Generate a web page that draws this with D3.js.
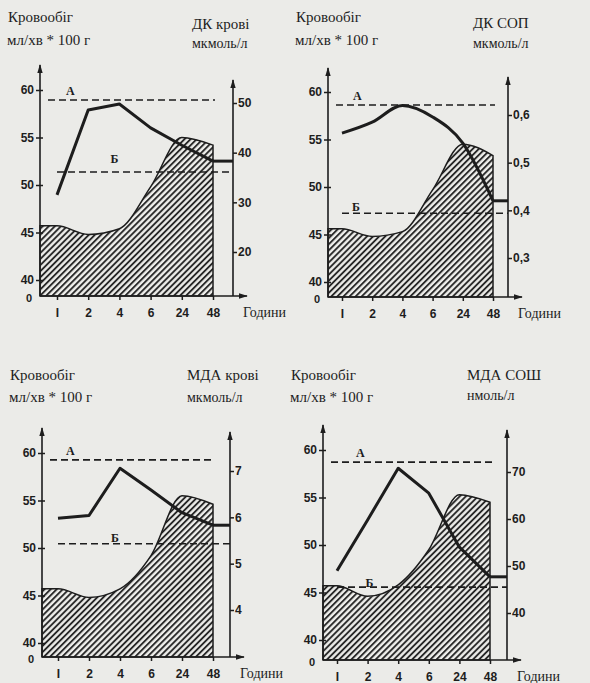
<!DOCTYPE html>
<html><head><meta charset="utf-8">
<script src="https://cdn.jsdelivr.net/npm/d3@7"></script>
<style>
html,body{margin:0;padding:0;background:#ebebe8;}
svg{display:block;}
.t{font-family:"Liberation Serif","DejaVu Serif",serif;fill:#1d1d1d;}
.n{font-family:"Liberation Sans","DejaVu Sans",sans-serif;font-weight:bold;fill:#1d1d1d;}
</style></head>
<body>
<svg id="c" width="590" height="683"></svg>
<script>
// ---- data ----
const hours = ["I", "2", "4", "6", "24", "48"];
const flowLabel = ["Кровообіг", "мл/хв * 100 г"];
const rightLabels = [["ДК крові", "мкмоль/л"], ["ДК СОП", "мкмоль/л"], ["МДА крові", "мкмоль/л"], ["МДА СОШ", "нмоль/л"]];
const leftTicks = [40, 45, 50, 55, 60];
const rightTicks1 = [20, 30, 40, 50];
const rightTicks2 = [0.3, 0.4, 0.5, 0.6];
const rightTicks3 = [4, 5, 6, 7];
const rightTicks4 = [40, 50, 60, 70];
const flow1 = [45.7, 44.8, 45.4, 49.8, 55.0, 54.2];
const flow2 = [45.6, 44.8, 45.3, 49.7, 54.5, 53.3];
const flow3 = [45.7, 44.8, 45.7, 49.2, 55.5, 54.6];
const flow4 = [45.7, 44.6, 45.8, 49.5, 55.3, 54.5];
const dkBlood = [31.5, 48.6, 49.8, 45.0, 41.5, 38.3];
const dkSop = [0.562, 0.585, 0.620, 0.596, 0.541, 0.420];
const mdaBlood = [5.98, 6.04, 7.06, 6.59, 6.10, 5.83];
const mdaSosh = [49.0, 59.8, 70.8, 65.5, 54.0, 47.7];
const levelA = [50.6, 0.621, 7.24, 72.1];
const levelB = [36.1, 0.394, 5.43, 45.5];
const xTitle = "Години";

// ---- layout ----
const panels = [
  {L:40, R:233, base:296, xI:57, x48:213, l40:280, l60:90, rDom:[20,50], rRng:[252,103], rt:rightTicks1, flow:flow1, line:dkBlood, curve:d3.curveLinear,
   topL:65, topR:80, tY1:22, tY2:45, rX:192, rY1:29, rY2:48, fmt:d3.format("d"), bx:-9, by:-13, bAt:"4", aX:66},
  {L:328, R:508, base:297, xI:342, x48:493, l40:282, l60:92, rDom:[0.3,0.6], rRng:[258,115], rt:rightTicks2, flow:flow2, line:dkSop, curve:d3.curveMonotoneX,
   topL:68, topR:77, tY1:22, tY2:45, rX:473, rY1:28, rY2:48, fmt:v=>d3.format(".1f")(v).replace(".", ","), bx:10, by:-6, bAt:"I", aX:353},
  {L:42, R:230, base:657, xI:58, x48:213, l40:643, l60:453, rDom:[4,7], rRng:[610,471], rt:rightTicks3, flow:flow3, line:mdaBlood, curve:d3.curveLinear,
   topL:428, topR:432, tY1:380, tY2:402, rX:187, rY1:380, rY2:402, fmt:d3.format("d"), bx:-9, by:-6, bAt:"4", aX:66},
  {L:323, R:507, base:660, xI:337, x48:490, l40:640, l60:450, rDom:[40,70], rRng:[613,472], rt:rightTicks4, flow:flow4, line:mdaSosh, curve:d3.curveLinear,
   topL:425, topR:430, tY1:380, tY2:402, rX:467, rY1:380, rY2:400, fmt:d3.format("d"), bx:-2, by:-4, bAt:"2", aX:356}
];

const ink = "#1d1d1d";
const svg = d3.select("#c");
const defs = svg.append("defs");
const pat = defs.append("pattern").attr("id","hatch").attr("patternUnits","userSpaceOnUse")
  .attr("width",4.3).attr("height",10).attr("patternTransform","rotate(45)");
pat.append("rect").attr("width",4.3).attr("height",10).attr("fill","#eeeeeb");
pat.append("line").attr("x1",1).attr("y1",0).attr("x2",1).attr("y2",10).attr("stroke",ink).attr("stroke-width",1.8);
defs.append("marker").attr("id","arr").attr("viewBox","0 0 10 10").attr("refX",9).attr("refY",5)
  .attr("markerWidth",9).attr("markerHeight",9).attr("orient","auto-start-reverse").attr("markerUnits","userSpaceOnUse")
  .append("path").attr("d","M0,2 L10,5 L0,8 Z").attr("fill",ink);

panels.forEach((p, i) => {
  const g = svg.append("g");
  const x = d3.scalePoint().domain(hours).range([p.xI, p.x48]);
  const yL = d3.scaleLinear().domain([40, 60]).range([p.l40, p.l60]);
  const yR = d3.scaleLinear().domain(p.rDom).range(p.rRng);

  // hatched blood-flow area
  const pts = [{x: p.L, v: p.flow[0]}].concat(hours.map((h, k) => ({x: x(h), v: p.flow[k]})));
  g.append("path").datum(pts)
    .attr("d", d3.area().x(d => d.x).y0(p.base).y1(d => yL(d.v)).curve(d3.curveMonotoneX))
    .attr("fill","url(#hatch)").attr("stroke",ink).attr("stroke-width",1.5);

  // dashed levels
  g.append("line").attr("x1",p.L+8).attr("x2",p.x48+2).attr("y1",yR(levelA[i])).attr("y2",yR(levelA[i]))
    .attr("stroke",ink).attr("stroke-width",1.6).attr("stroke-dasharray","7,4");
  g.append("line").attr("x1",p.xI).attr("x2",p.R).attr("y1",yR(levelB[i])).attr("y2",yR(levelB[i]))
    .attr("stroke",ink).attr("stroke-width",1.6).attr("stroke-dasharray","7,4");
  g.append("text").attr("class","t").attr("x",p.aX).attr("y",yR(levelA[i])-5)
    .attr("font-size",12).attr("font-weight","bold").text("А");
  g.append("text").attr("class","t").attr("x",x(p.bAt)+p.bx).attr("y",yR(levelB[i])+p.by+4)
    .attr("font-size",12).attr("font-weight","bold").text("Б");

  // data line
  const lp = hours.map((h, k) => [x(h), yR(p.line[k])]);
  g.append("path").attr("d", d3.line().curve(p.curve)(lp))
    .attr("fill","none").attr("stroke",ink).attr("stroke-width",3).attr("stroke-linejoin","round");
  const last = yR(p.line[p.line.length-1]);
  g.append("line").attr("x1",p.x48).attr("x2",p.R).attr("y1",last).attr("y2",last)
    .attr("stroke",ink).attr("stroke-width",3);

  // axes lines with arrows
  g.append("line").attr("x1",p.L).attr("x2",p.L).attr("y1",p.base).attr("y2",p.topL)
    .attr("stroke",ink).attr("stroke-width",1.6).attr("marker-end","url(#arr)");
  g.append("line").attr("x1",p.R).attr("x2",p.R).attr("y1",p.base).attr("y2",p.topR)
    .attr("stroke",ink).attr("stroke-width",1.6).attr("marker-end","url(#arr)");
  g.append("line").attr("x1",p.L).attr("x2",p.R+14).attr("y1",p.base).attr("y2",p.base)
    .attr("stroke",ink).attr("stroke-width",1.6).attr("marker-end","url(#arr)");

  // left axis ticks
  const la = g.append("g").attr("transform",`translate(${p.L},0)`)
    .call(d3.axisLeft(yL).tickValues(leftTicks).tickSize(4).tickFormat(d3.format("d")));
  la.select(".domain").remove();
  la.selectAll("line").attr("stroke",ink).attr("stroke-width",1.5).attr("x2",-4).attr("x1",3);
  la.selectAll("text").attr("class","n").attr("font-size",12).attr("font-family",null).attr("x",-6).attr("dy","0.3em");
  g.append("text").attr("class","n").attr("x",p.L-8).attr("y",p.base+6).attr("text-anchor","end")
    .attr("font-size",11).text("0");

  // right axis ticks
  const ra = g.append("g").attr("transform",`translate(${p.R},0)`)
    .call(d3.axisRight(yR).tickValues(p.rt).tickSize(4).tickFormat(p.fmt));
  ra.select(".domain").remove();
  ra.selectAll("line").attr("stroke",ink).attr("stroke-width",1.5);
  ra.selectAll("text").attr("class","n").attr("font-size",12).attr("font-family",null).attr("x",5);

  // x axis ticks
  const xa = g.append("g").attr("transform",`translate(0,${p.base})`)
    .call(d3.axisBottom(x).tickSize(4));
  xa.select(".domain").remove();
  xa.selectAll("line").attr("stroke",ink).attr("stroke-width",1.5);
  xa.selectAll("text").attr("class","n").attr("font-size",12).attr("font-family",null).attr("y",12);
  g.append("text").attr("class","t").attr("x",p.R+10).attr("y",p.base+21).attr("font-size",14).text(xTitle);

  // titles
  g.append("text").attr("class","t").attr("x",p.L-32).attr("y",p.tY1).attr("font-size",15).text(flowLabel[0]);
  g.append("text").attr("class","t").attr("x",p.L-33).attr("y",p.tY2).attr("font-size",15).text(flowLabel[1]);
  g.append("text").attr("class","t").attr("x",p.rX).attr("y",p.rY1).attr("font-size",15).text(rightLabels[i][0]);
  g.append("text").attr("class","t").attr("x",p.rX).attr("y",p.rY2).attr("font-size",14).text(rightLabels[i][1]);
});
</script>
</body></html>
